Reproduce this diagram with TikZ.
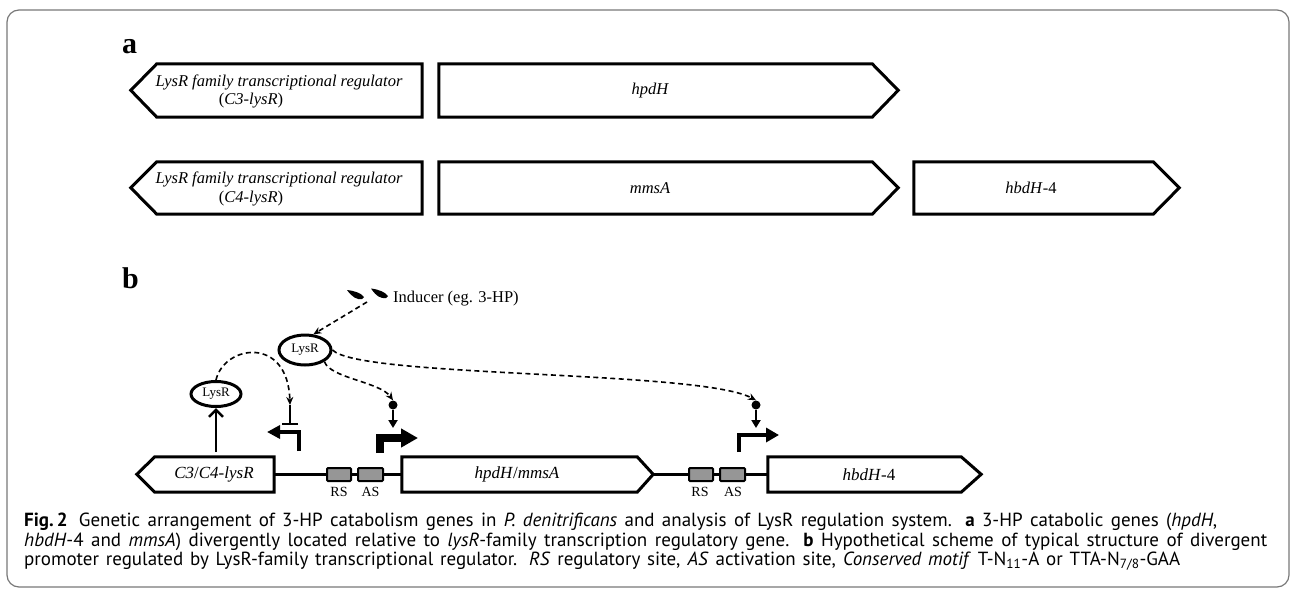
\documentclass[tikz,border=0pt]{standalone}
\usepackage{fontspec}
\setmainfont{Liberation Serif}
\newfontfamily\capfont{PT Sans}
\usetikzlibrary{arrows.meta,shapes.geometric,calc}
\definecolor{boxgray}{RGB}{150,150,150}
\definecolor{framegray}{RGB}{120,120,120}
\tikzset{
  genebody/.style={draw=none, inner sep=0pt, minimum height=#1},
  geneline/.style={line width=3pt, line join=miter, black},
  genetxt/.style={inner sep=0pt, font=\fontsize{16.5}{18}\selectfont\itshape},
  site/.style={draw, line width=2pt, fill=boxgray, inner sep=0pt, minimum height=13pt, rounded corners=1pt},
  sitelbl/.style={inner sep=0pt, font=\fontsize{14}{15}\selectfont},
  protein/.style={draw, ellipse, line width=3pt, inner sep=0pt, font=\fontsize{13}{14}\selectfont},
  dasharr/.style={dash pattern=on 5pt off 3.5pt, line width=1.6pt, -{Stealth[length=8pt,width=7pt]}},
  solidarr/.style={line width=2.5pt, -{Triangle[length=8pt 0,width=9pt 0]}},
  dotnode/.style={circle, fill=black, inner sep=0pt, minimum size=9pt},
  plabel/.style={inner sep=0pt, font=\fontsize{30}{30}\selectfont\bfseries},
  captxt/.style={inner sep=0pt, anchor=base west, font=\capfont\fontsize{19}{20}\selectfont},
}
\begin{document}
\begin{tikzpicture}[x=1pt,y=-1pt]
\useasboundingbox (0,0) rectangle (1290,592);
\draw[framegray, line width=1.2pt, rounded corners=12pt] (7,10) rectangle (1289,587);

% ---------- panel a ----------
\node[plabel, anchor=base west] (la) at (122,53) {a};

% row 1
\node[genebody=53pt, minimum width=265pt] (r1l) at (289.5,90.5) {};
\draw[geneline] (r1l.north east) -- (r1l.north west) -- ++(-26,26.5) -- (r1l.south west) -- (r1l.south east) -- cycle;
\node[genetxt] (r1lt1) at (279,82) {LysR family transcriptional regulator};
\node[genetxt, font=\fontsize{16.5}{18}\selectfont] (r1lt2) at (251,101) {(\textit{C3-lysR})};
\node[genebody=53pt, minimum width=433pt] (hpd) at (655.5,90.5) {};
\draw[geneline] (hpd.north west) -- (hpd.north east) -- ++(26,26.5) -- (hpd.south east) -- (hpd.south west) -- cycle;
\node[genetxt] (hpdt) at (650,90.5) {hpdH};

% row 2
\node[genebody=52pt, minimum width=265pt] (r2l) at (289.5,188) {};
\draw[geneline] (r2l.north east) -- (r2l.north west) -- ++(-26,26) -- (r2l.south west) -- (r2l.south east) -- cycle;
\node[genetxt] (r2lt1) at (279,179.5) {LysR family transcriptional regulator};
\node[genetxt, font=\fontsize{16.5}{18}\selectfont] (r2lt2) at (251,198.5) {(\textit{C4-lysR})};
\node[genebody=52pt, minimum width=433pt] (mms) at (655.5,188) {};
\draw[geneline] (mms.north west) -- (mms.north east) -- ++(26,26) -- (mms.south east) -- (mms.south west) -- cycle;
\node[genetxt] (mmst) at (650,188) {mmsA};
\node[genebody=52pt, minimum width=239pt] (hbd) at (1033.5,188) {};
\draw[geneline] (hbd.north west) -- (hbd.north east) -- ++(26,26) -- (hbd.south east) -- (hbd.south west) -- cycle;
\node[genetxt] (hbdt) at (1031,188) {hbdH\textup{-4}};

% ---------- panel b ----------
\node[plabel, anchor=base west] (lb) at (122,288) {b};

% gene row
\node[genebody=35pt, minimum width=119pt] (c34) at (214.5,474.5) {};
\draw[geneline] (c34.north east) -- (c34.north west) -- ++(-18,17.5) -- (c34.south west) -- (c34.south east) -- cycle;
\node[genetxt, font=\fontsize{17}{18}\selectfont] (c34t) at (214,474.5) {\textit{C3}/\textit{C4-lysR}};
\node[genebody=35pt, minimum width=235pt] (hm) at (519.5,474.5) {};
\draw[geneline] (hm.north west) -- (hm.north east) -- ++(16,17.5) -- (hm.south east) -- (hm.south west) -- cycle;
\coordinate (hmtip) at ($(hm.east)+(16,0)$);
\node[genetxt, font=\fontsize{17}{18}\selectfont] (hmt) at (517,474.5) {\textit{hpdH}/\textit{mmsA}};
\node[genebody=35pt, minimum width=193pt] (hb) at (864.5,474.5) {};
\draw[geneline] (hb.north west) -- (hb.north east) -- ++(20,17.5) -- (hb.south east) -- (hb.south west) -- cycle;
\node[genetxt, font=\fontsize{17}{18}\selectfont] (hbt) at (869,474.5) {\textit{hbdH}-4};

\node[site, minimum width=24pt] (rs1) at (339,474.5) {};
\node[site, minimum width=25pt] (as1) at (370.5,474.5) {};
\node[site, minimum width=24pt] (rs2) at (701,474.5) {};
\node[site, minimum width=25pt] (as2) at (732.5,474.5) {};
\draw[line width=3pt] (c34.east) -- (rs1.west);
\draw[line width=3pt] (rs1.east) -- (as1.west);
\draw[line width=3pt] (as1.east) -- (hm.west);
\draw[line width=3pt] (hmtip) -- (rs2.west);
\draw[line width=3pt] (rs2.east) -- (as2.west);
\draw[line width=3pt] (as2.east) -- (hb.west);
\node[sitelbl] (rs1l) at (339,492) {RS};
\node[sitelbl] (as1l) at (370.5,492) {AS};
\node[sitelbl] (rs2l) at (700,492) {RS};
\node[sitelbl] (as2l) at (733,492) {AS};

% proteins
\node[protein, minimum width=50pt, minimum height=25pt] (lys2) at (216,394) {LysR};
\node[protein, minimum width=52pt, minimum height=30pt] (lys1) at (305,350) {LysR};

% inducer
\node[inner sep=0pt, anchor=west, font=\fontsize{16.5}{18}\selectfont] (ind) at (393,299) {Inducer (eg. 3-HP)};
\fill (347,290) .. controls (355,291) and (361,293) .. (364,297) -- (362,299) .. controls (357,300) and (352,297) .. cycle;
\fill (371,288.5) .. controls (379,289.5) and (385,292) .. (388,296) -- (386,298) .. controls (381,299) and (376,296) .. cycle;
\coordinate (indsrc) at (367,302);
\draw[dasharr] (indsrc) -- (lys1.62);

% up arrow from lysR gene to LysR protein
\coordinate (upst) at (216,452);
\draw[line width=2.5pt, -{Straight Barb[length=7pt 0,width=14pt 0]}] (upst) -- (lys2.south);

% repression of own promoter
\coordinate (tbtop) at (290,405);
\coordinate (tbbot) at (290,425);
\draw[dasharr] (lys2.north) .. controls (224,345) and (288,335) .. (tbtop);
\draw[line width=2.5pt, -{Bar[width=16pt]}] (tbtop) -- (tbbot);

% promoter arrows
\coordinate (p1a) at (299,451);
\coordinate (p1b) at (267,432);
\draw[line width=3.5pt, line join=miter, -{Triangle[length=13pt 0,width=13pt 0]}] (p1a) |- (p1b);
\coordinate (p2a) at (380,453);
\coordinate (p2b) at (418,438);
\draw[line width=8pt, line join=miter, -{Triangle[length=17pt 0,width=18pt 0]}] (p2a) |- (p2b);
\coordinate (p3a) at (739,452);
\coordinate (p3b) at (779,435);
\draw[line width=4.5pt, line join=miter, -{Triangle[length=13pt 0,width=14pt 0]}] (p3a) |- (p3b);

% activation of hpdH/mmsA promoter
\node[dotnode] (dot1) at (393,405) {};
\coordinate (act1) at (393,428);
\draw[dasharr] (lys1.south east) .. controls (330,378) and (380,382) .. (dot1.north);
\draw[solidarr] (dot1) -- (act1);

% activation of hbdH-4 promoter
\node[dotnode] (dot2) at (756,405) {};
\coordinate (act2) at (756,428);
\draw[dasharr] (lys1.east) .. controls (360,378) and (700,370) .. (dot2.north);
\draw[solidarr] (dot2) -- (act2);

% ---------- caption ----------
\node[captxt] (cap1) at (24,526) {\makebox[1193pt][s]{\textbf{Fig.\,2}\hspace{0.2em} Genetic arrangement of 3-HP catabolism genes in \textit{P. denitrificans} and analysis of LysR regulation system. \textbf{a} 3-HP catabolic genes (\textit{hpdH},}};
\node[captxt] (cap2) at (24,546) {\makebox[1243pt][s]{\textit{hbdH}-4 and \textit{mmsA}) divergently located relative to \textit{lysR}-family transcription regulatory gene. \textbf{b} Hypothetical scheme of typical structure of divergent}};
\node[captxt] (cap3) at (24,565) {\makebox[1156pt][s]{promoter regulated by LysR-family transcriptional regulator. \textit{RS} regulatory site, \textit{AS} activation site, \textit{Conserved motif} T-N\textsubscript{11}-A or TTA-N\textsubscript{7/8}-GAA}};
\end{tikzpicture}
\end{document}
